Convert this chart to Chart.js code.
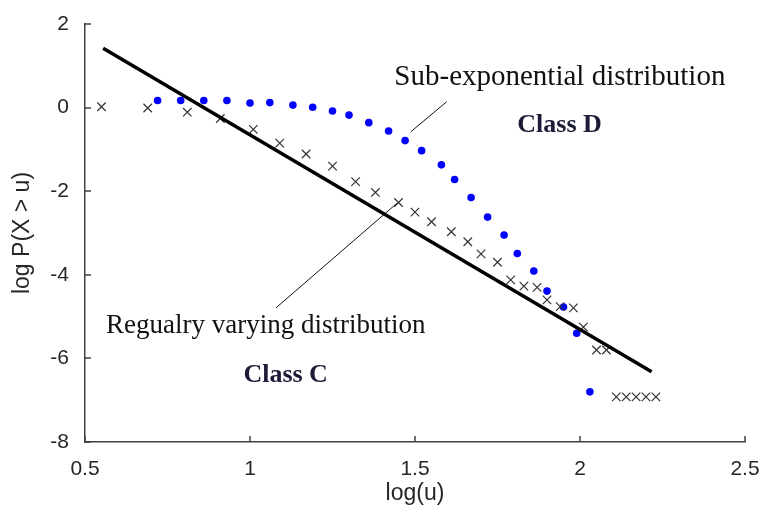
<!DOCTYPE html>
<html>
<head>
<meta charset="utf-8">
<script src="https://cdn.jsdelivr.net/npm/chart.js@4"></script>
<style>
  html, body { margin: 0; padding: 0; background: #fff; }
</style>
</head>
<body>
<canvas id="chart" width="762" height="515"></canvas>
<script>
// values
const xTicks = [0.5, 1, 1.5, 2, 2.5];
const yTicks = [-8, -6, -4, -2, 0, 2];

// Class D (blue dots)
const blueX = [0.72, 0.79, 0.86, 0.93, 1.00, 1.06, 1.13, 1.19, 1.25, 1.30, 1.36, 1.42, 1.47,
               1.52, 1.58, 1.62, 1.67, 1.72, 1.77, 1.81, 1.86, 1.90, 1.95, 1.99, 2.03];
const blueY = [0.17, 0.17, 0.17, 0.17, 0.11, 0.12, 0.06, 0.01, -0.08, -0.18, -0.36, -0.56, -0.79,
               -1.03, -1.37, -1.72, -2.15, -2.62, -3.05, -3.49, -3.91, -4.39, -4.77, -5.40, -6.80];

// Class C (crosses)
const crossX = [0.55, 0.69, 0.81, 0.91, 1.01, 1.09, 1.17, 1.25, 1.32, 1.38, 1.45, 1.50, 1.55, 1.61,
                1.66, 1.70, 1.75, 1.79, 1.83, 1.87, 1.90, 1.94, 1.98, 2.01, 2.05, 2.08,
                2.11, 2.14, 2.17, 2.20, 2.23];
const crossY = [0.02, -0.01, -0.11, -0.26, -0.52, -0.85, -1.11, -1.40, -1.77, -2.03, -2.27, -2.50,
                -2.73, -2.97, -3.21, -3.50, -3.70, -4.12, -4.27, -4.30, -4.60, -4.76, -4.79, -5.25,
                -5.80, -5.80, -6.92, -6.92, -6.92, -6.92, -6.92];

// fitted straight line
const lineX = [0.555, 2.217];
const lineY = [1.42, -6.32];

// leader lines for the labels
const subExpLeaderX = [1.596, 1.487];
const subExpLeaderY = [0.14, -0.58];
const regLeaderX = [1.079, 1.445];
const regLeaderY = [-4.79, -2.29];

// text labels [text, x, y, font, colour]
const notes = [
  ['Sub-exponential distribution', 1.939, 0.73, '29px "Liberation Serif", "Times New Roman", serif', '#111'],
  ['Class D', 1.938, -0.42, 'bold 26px "Liberation Serif", "Times New Roman", serif', '#1c1c38'],
  ['Regualry varying distribution', 1.048, -5.23, '27px "Liberation Serif", "Times New Roman", serif', '#111'],
  ['Class C', 1.108, -6.40, 'bold 26px "Liberation Serif", "Times New Roman", serif', '#1c1c38']
];

function pts(xs, ys) {
  return xs.map((x, i) => ({ x: x, y: ys[i] }));
}

const axisColor = '#404040';

const notesPlugin = {
  id: 'notes',
  afterDatasetsDraw(chart) {
    const ctx = chart.ctx;
    const sx = chart.scales.x, sy = chart.scales.y;
    ctx.save();
    ctx.textAlign = 'center';
    ctx.textBaseline = 'middle';
    notes.forEach(n => {
      ctx.font = n[3];
      ctx.fillStyle = n[4];
      ctx.fillText(n[0], sx.getPixelForValue(n[1]), sy.getPixelForValue(n[2]));
    });
    ctx.restore();
  }
};

// tick marks pointing into the plot, matlab style
const inTicksPlugin = {
  id: 'inTicks',
  afterDraw(chart) {
    const ctx = chart.ctx;
    const a = chart.chartArea;
    const sx = chart.scales.x, sy = chart.scales.y;
    ctx.save();
    ctx.strokeStyle = axisColor;
    ctx.lineWidth = 1.5;
    ctx.beginPath();
    xTicks.forEach(v => {
      const px = Math.round(sx.getPixelForValue(v));
      ctx.moveTo(px, a.bottom);
      ctx.lineTo(px, a.bottom - 6);
    });
    yTicks.forEach(v => {
      const py = Math.round(sy.getPixelForValue(v));
      ctx.moveTo(a.left, py);
      ctx.lineTo(a.left + 6, py);
    });
    ctx.stroke();
    ctx.restore();
  }
};

const tickFont = { family: '"Liberation Sans", Arial, sans-serif', size: 21 };
const titleFont = { family: '"Liberation Sans", Arial, sans-serif', size: 23 };

new Chart(document.getElementById('chart').getContext('2d'), {
  type: 'scatter',
  data: {
    datasets: [
      {
        label: 'fit',
        data: pts(lineX, lineY),
        showLine: true,
        borderColor: '#000',
        borderWidth: 3.5,
        pointRadius: 0
      },
      {
        label: 'Class C',
        data: pts(crossX, crossY),
        pointStyle: 'crossRot',
        pointRadius: 6,
        borderColor: '#333',
        borderWidth: 1.2,
        backgroundColor: '#333'
      },
      {
        label: 'Class D',
        data: pts(blueX, blueY),
        pointStyle: 'circle',
        pointRadius: 3.8,
        borderWidth: 0,
        backgroundColor: '#0000ff'
      },
      {
        label: 'leader1',
        data: pts(subExpLeaderX, subExpLeaderY),
        showLine: true,
        borderColor: '#111',
        borderWidth: 1,
        pointRadius: 0
      },
      {
        label: 'leader2',
        data: pts(regLeaderX, regLeaderY),
        showLine: true,
        borderColor: '#111',
        borderWidth: 1,
        pointRadius: 0
      }
    ]
  },
  options: {
    responsive: false,
    devicePixelRatio: 1,
    animation: false,
    layout: { padding: { top: 24, right: 17, left: 0, bottom: 0 } },
    plugins: {
      legend: { display: false },
      tooltip: { enabled: false }
    },
    scales: {
      x: {
        type: 'linear',
        min: 0.5,
        max: 2.5,
        afterBuildTicks: s => { s.ticks = xTicks.map(v => ({ value: v })); },
        afterFit: s => { s.height = 73; s.paddingLeft = 0; s.paddingRight = 0; },
        grid: { display: false },
        border: { display: true, color: axisColor, width: 1.5 },
        ticks: { font: tickFont, color: '#262626', padding: 7, maxRotation: 0, callback: v => String(v) },
        title: { display: true, text: 'log(u)', font: titleFont, color: '#262626', padding: { top: 0, bottom: 8 } }
      },
      y: {
        type: 'linear',
        min: -8,
        max: 2,
        afterBuildTicks: s => { s.ticks = yTicks.map(v => ({ value: v })); },
        afterFit: s => { s.width = 85; s.paddingTop = 0; s.paddingBottom = 0; },
        grid: { display: false },
        border: { display: true, color: axisColor, width: 1.5 },
        ticks: { font: tickFont, color: '#262626', padding: 8, callback: v => String(v) },
        title: { display: true, text: 'log P(X > u)', font: titleFont, color: '#262626', padding: { top: 9, bottom: 0 } }
      }
    }
  },
  plugins: [notesPlugin, inTicksPlugin]
});
</script>
</body>
</html>
